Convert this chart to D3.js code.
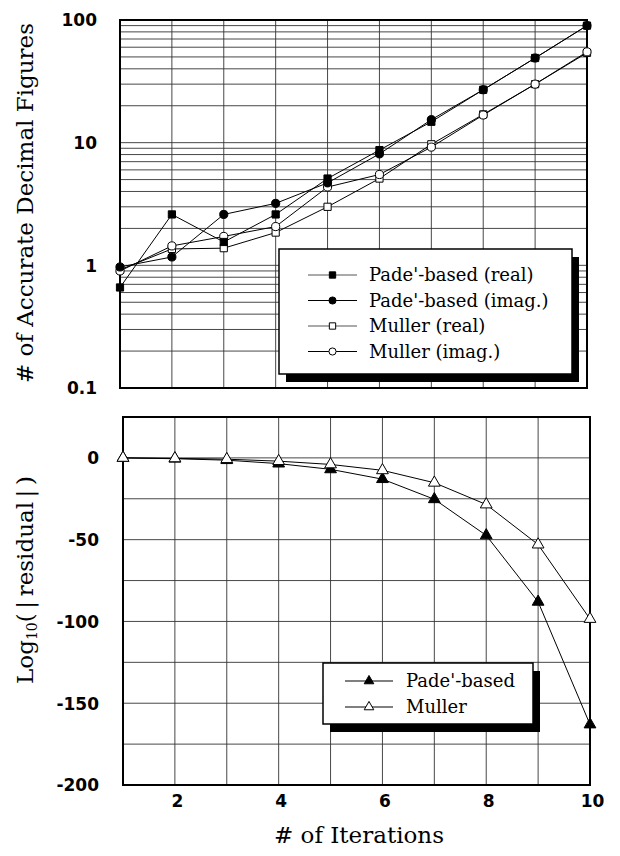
<!DOCTYPE html>
<html>
<head>
<meta charset="utf-8">
<script src="https://cdn.jsdelivr.net/npm/d3@7"></script>
<style>
  body { margin: 0; background: #fff; }
  .serif { font-family: "DejaVu Serif", serif; fill: #000; }
  .tick-label { font-family: "DejaVu Sans", sans-serif; font-weight: bold; font-size: 17px; fill: #000; }
</style>
</head>
<body>
<svg id="chart" width="620" height="856"></svg>
<script>
// data
const iterations = [1, 2, 3, 4, 5, 6, 7, 8, 9, 10];

// top panel: # of accurate decimal figures
const padeReal  = [0.66, 2.6, 1.55, 2.6, 5.1, 8.7, 14.8, 27, 49, 90];
const padeImag  = [0.97, 1.17, 2.6, 3.2, 4.7, 8.1, 15.4, 27, 49, 90];
const mullerReal = [0.92, 1.36, 1.38, 1.85, 3.0, 5.1, 9.7, 17, 30, 54];
const mullerImag = [0.9, 1.44, 1.72, 2.07, 4.35, 5.5, 9.2, 16.8, 30, 55];

// bottom panel: log10(|residual|)
const padeResid   = [0, -0.5, -1.4, -3.5, -7, -13, -25.3, -47.4, -88, -163];
const mullerResid = [0, -0.3, -0.8, -2, -4, -7.6, -15.2, -28.5, -53, -98.5];

const topTicks = [0.1, 1, 10, 100];
const topTickLabels = ["0.1", "1", "10", "100"];
const bottomTicks = [0, -50, -100, -150, -200];
const bottomTickLabels = ["0", "-50", "-100", "-150", "-200"];
const xTicks = [2, 4, 6, 8, 10];

const svg = d3.select("#chart");

// ---------- top panel ----------
const x1 = d3.scaleLinear().domain([1, 10]).range([120, 587]);
const y1 = d3.scaleLog().domain([0.1, 100]).range([388, 20]);

const topPanel = svg.append("g");

// minor + major log grid
let logGrid = [];
[0.1, 1, 10].forEach(d => { for (let k = 1; k <= 10; k++) logGrid.push(d * k); });
logGrid = Array.from(new Set(logGrid.map(v => +v.toPrecision(3))));

topPanel.append("g").selectAll("line").data(logGrid).enter().append("line")
  .attr("x1", 120).attr("x2", 587)
  .attr("y1", d => y1(d)).attr("y2", d => y1(d))
  .attr("stroke", "#333").attr("stroke-width", 0.9);

topPanel.append("g").selectAll("line").data(iterations).enter().append("line")
  .attr("x1", d => x1(d)).attr("x2", d => x1(d))
  .attr("y1", 20).attr("y2", 388)
  .attr("stroke", "#333").attr("stroke-width", 0.9);

topPanel.append("rect").attr("x", 120).attr("y", 20).attr("width", 467).attr("height", 368)
  .attr("fill", "none").attr("stroke", "#000").attr("stroke-width", 2);

// tick labels
topPanel.append("g").attr("transform", "translate(97,0)")
  .call(d3.axisLeft(y1).tickValues(topTicks).tickSize(0).tickFormat((d, i) => topTickLabels[i]))
  .call(g => g.select(".domain").remove())
  .selectAll("text").attr("class", "tick-label").attr("x", 0).attr("dy", "0.35em");

function drawSeries(g, xs, ys, vals, shape, filled) {
  const line = d3.line().x((d, i) => xs(iterations[i])).y(d => ys(d));
  g.append("path").datum(vals).attr("d", line)
    .attr("fill", "none").attr("stroke", "#000").attr("stroke-width", 1);
  g.append("g").selectAll("path").data(vals).enter().append("path")
    .attr("transform", (d, i) => `translate(${xs(iterations[i])},${ys(d)})`)
    .attr("d", d3.symbol().type(shape).size(shape === d3.symbolTriangle ? 60 : 52)())
    .attr("fill", filled ? "#000" : "#fff").attr("stroke", "#000").attr("stroke-width", 1);
}

drawSeries(topPanel, x1, y1, mullerReal, d3.symbolSquare, false);
drawSeries(topPanel, x1, y1, mullerImag, d3.symbolCircle, false);
drawSeries(topPanel, x1, y1, padeImag, d3.symbolCircle, true);
drawSeries(topPanel, x1, y1, padeReal, d3.symbolSquare, true);

// top legend
const topLegend = [
  { name: "Pade'-based (real)", shape: d3.symbolSquare, filled: true, col: "#555" },
  { name: "Pade'-based (imag.)", shape: d3.symbolCircle, filled: true, col: "#000" },
  { name: "Muller (real)", shape: d3.symbolSquare, filled: false, col: "#555" },
  { name: "Muller (imag.)", shape: d3.symbolCircle, filled: false, col: "#000" }
];
function drawLegend(g, bx, by, bw, bh, items, rowY0, rowStep, lx0, lx1, tx) {
  g.append("rect").attr("x", bx + 7).attr("y", by + 8).attr("width", bw).attr("height", bh).attr("fill", "#000");
  g.append("rect").attr("x", bx).attr("y", by).attr("width", bw).attr("height", bh)
    .attr("fill", "#fff").attr("stroke", "#000").attr("stroke-width", 1.5);
  items.forEach((it, i) => {
    const yy = rowY0 + i * rowStep;
    g.append("line").attr("x1", lx0).attr("x2", lx1).attr("y1", yy).attr("y2", yy)
      .attr("stroke", it.col).attr("stroke-width", 1);
    g.append("path").attr("transform", `translate(${(lx0 + lx1) / 2},${yy})`)
      .attr("d", d3.symbol().type(it.shape).size(40)())
      .attr("fill", it.filled ? "#000" : "#fff").attr("stroke", "#000").attr("stroke-width", 1);
    g.append("text").attr("class", "serif").attr("x", tx).attr("y", yy).attr("dy", "0.35em")
      .style("font-size", "18px").text(it.name);
  });
}
drawLegend(topPanel, 279, 249, 293, 125, topLegend, 275, 25.5, 308, 357, 369);

// top y title
svg.append("text").attr("class", "serif")
  .attr("transform", "translate(25,203) rotate(-90)")
  .attr("text-anchor", "middle").attr("dy", "0.35em")
  .style("font-size", "23px").text("# of Accurate Decimal Figures");

// ---------- bottom panel ----------
const x2 = d3.scaleLinear().domain([1, 10]).range([123, 590]);
const y2 = d3.scaleLinear().domain([-200, 25]).range([785, 417]);

const botPanel = svg.append("g");
botPanel.append("g").selectAll("line").data(d3.range(-175, 25, 25)).enter().append("line")
  .attr("x1", 123).attr("x2", 590)
  .attr("y1", d => y2(d)).attr("y2", d => y2(d))
  .attr("stroke", "#333").attr("stroke-width", 0.9);
botPanel.append("g").selectAll("line").data(iterations).enter().append("line")
  .attr("x1", d => x2(d)).attr("x2", d => x2(d))
  .attr("y1", 417).attr("y2", 785)
  .attr("stroke", "#333").attr("stroke-width", 0.9);
botPanel.append("rect").attr("x", 123).attr("y", 417).attr("width", 467).attr("height", 368)
  .attr("fill", "none").attr("stroke", "#000").attr("stroke-width", 2);

botPanel.append("g").attr("transform", "translate(99,0)")
  .call(d3.axisLeft(y2).tickValues(bottomTicks).tickSize(0).tickFormat((d, i) => bottomTickLabels[i]))
  .call(g => g.select(".domain").remove())
  .selectAll("text").attr("class", "tick-label").attr("x", 0).attr("dy", "0.35em");

botPanel.append("g").attr("transform", "translate(2,795)")
  .call(d3.axisBottom(x2).tickValues(xTicks).tickSize(0))
  .call(g => g.select(".domain").remove())
  .selectAll("text").attr("class", "tick-label").attr("y", 0).attr("dy", "0.71em");

drawSeries(botPanel, x2, y2, padeResid, d3.symbolTriangle, true);
drawSeries(botPanel, x2, y2, mullerResid, d3.symbolTriangle, false);

const botLegend = [
  { name: "Pade'-based", shape: d3.symbolTriangle, filled: true, col: "#000" },
  { name: "Muller", shape: d3.symbolTriangle, filled: false, col: "#000" }
];
drawLegend(botPanel, 323, 663, 210, 61, botLegend, 681, 26, 345, 393, 406);

// bottom y title with subscript
const lt = svg.append("text").attr("class", "serif")
  .attr("transform", "translate(25,580) rotate(-90)")
  .attr("text-anchor", "middle").attr("dy", "0.35em")
  .style("font-size", "23px");
lt.append("tspan").text("Log");
lt.append("tspan").attr("baseline-shift", "-25%").style("font-size", "14px").text("10");
lt.append("tspan").text("(\u2009|\u2009residual\u2009|\u2009)");

// x title
svg.append("text").attr("class", "serif")
  .attr("x", 359).attr("y", 835).attr("dy", "0.35em")
  .attr("text-anchor", "middle").style("font-size", "23px").text("# of Iterations");
</script>
</body>
</html>
